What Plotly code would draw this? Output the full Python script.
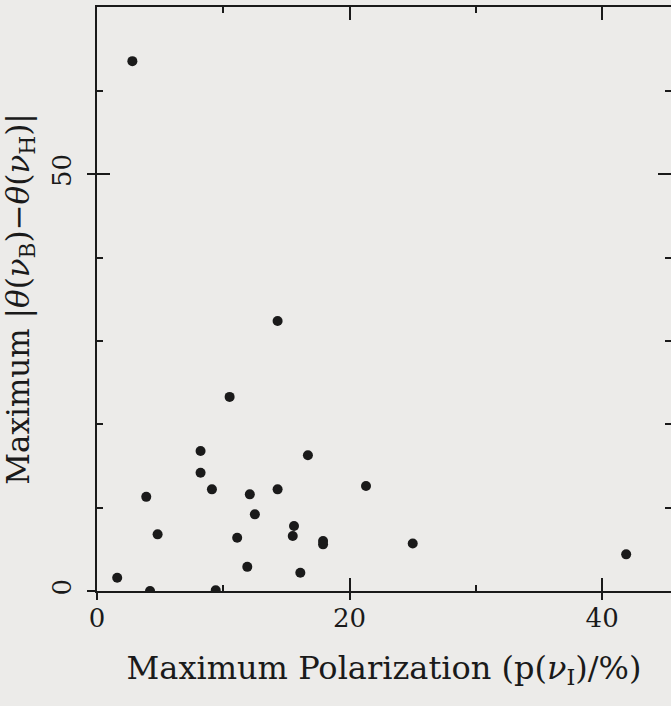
import plotly.graph_objects as go

# Data
max_polarization = [2.8, 10.5, 8.2, 8.2, 3.9, 9.1, 12.1, 14.3, 16.7, 21.3, 12.5, 4.8, 11.1,
                    15.6, 15.5, 17.9, 17.9, 11.9, 16.1, 1.6, 4.2, 9.4, 14.3, 25.0, 41.9]
max_angle_diff = [63.6, 23.3, 16.8, 14.2, 11.3, 12.2, 11.6, 12.2, 16.3, 12.6, 9.2, 6.8, 6.4,
                  7.8, 6.6, 6.0, 5.6, 2.9, 2.2, 1.6, 0.0, 0.1, 32.4, 5.7, 4.4]

x_range = [0, 45.45]
y_range = [0, 70.1]
x_major = [0, 20, 40]
y_major = [0, 50]

INK = "#1a1a1a"
BG = "#ecebe9"
TICKFONT = dict(family="DejaVu Serif", size=26, color=INK)
XTITLEFONT = dict(family="DejaVu Serif", size=32, color=INK)
YTITLEFONT = dict(family="DejaVu Serif", size=31, color=INK)

fig = go.Figure()
fig.add_trace(go.Scatter(
    x=max_polarization, y=max_angle_diff, mode="markers",
    marker=dict(size=10, color=INK), hoverinfo="skip", showlegend=False))
# invisible helpers so the overlay axes (outer tick parts, right ticks) get drawn
fig.add_trace(go.Scatter(x=max_polarization, y=max_angle_diff, xaxis="x2", yaxis="y2",
                         mode="markers", marker=dict(opacity=0), hoverinfo="skip", showlegend=False))
fig.add_trace(go.Scatter(x=max_polarization, y=max_angle_diff, xaxis="x", yaxis="y3",
                         mode="markers", marker=dict(opacity=0), hoverinfo="skip", showlegend=False))

fig.update_layout(
    width=671, height=706,
    margin=dict(l=97, r=0, t=7, b=115),
    paper_bgcolor=BG, plot_bgcolor=BG,
    xaxis=dict(
        range=x_range, showgrid=False, zeroline=False,
        showline=True, linecolor=INK, linewidth=2, mirror="ticks",
        ticks="inside", tickvals=x_major, ticklen=13, tickwidth=2, tickcolor=INK,
        minor=dict(dtick=10, ticks="inside", ticklen=6, tickwidth=2, tickcolor=INK),
        tickfont=TICKFONT, ticklabelstandoff=3,
        title=dict(text="Maximum Polarization (p(<i>ν</i><sub>I</sub>)/%)",
                   font=XTITLEFONT, standoff=24),
    ),
    yaxis=dict(
        range=y_range, showgrid=False, zeroline=False,
        showline=True, linecolor=INK, linewidth=2, mirror=False,
        ticks="inside", tickvals=y_major, ticklen=13, tickwidth=2, tickcolor=INK,
        minor=dict(dtick=10, ticks="inside", ticklen=6, tickwidth=2, tickcolor=INK),
        tickfont=TICKFONT, tickangle=-90, ticklabelstandoff=14,
        title=dict(text="Maximum |<i>θ</i>(<i>ν</i><sub>B</sub>)−<i>θ</i>(<i>ν</i><sub>H</sub>)|",
                   font=YTITLEFONT, standoff=20),
    ),
    xaxis2=dict(
        overlaying="x", range=x_range, side="bottom", showgrid=False, zeroline=False,
        showline=False, ticks="outside", tickvals=x_major, ticklen=8, tickwidth=2,
        tickcolor=INK, showticklabels=False,
    ),
    yaxis2=dict(
        overlaying="y", range=y_range, side="left", showgrid=False, zeroline=False,
        showline=False, ticks="outside", tickvals=y_major, ticklen=9, tickwidth=2,
        tickcolor=INK, showticklabels=False,
    ),
    yaxis3=dict(
        overlaying="y", range=y_range, side="right", showgrid=False, zeroline=False,
        showline=False, ticks="inside", tickvals=y_major, ticklen=13, tickwidth=2,
        tickcolor=INK, showticklabels=False,
        minor=dict(dtick=10, ticks="inside", ticklen=6, tickwidth=2, tickcolor=INK),
    ),
)

fig.write_html("out.html")
